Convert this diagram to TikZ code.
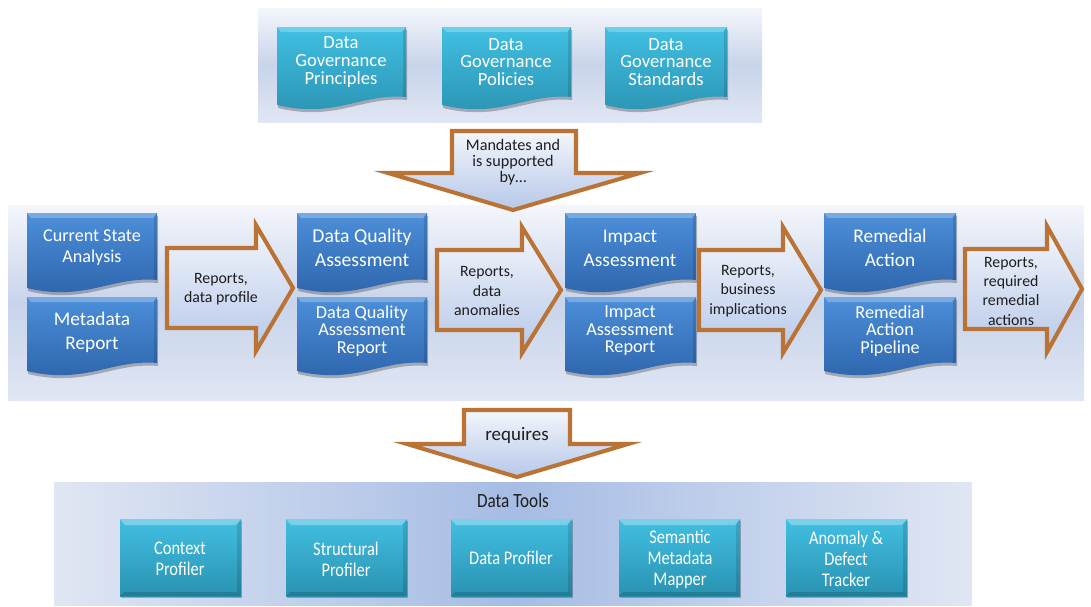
\documentclass[tikz,border=0pt]{standalone}
\usepackage{fontspec}
\setmainfont{Carlito}
\newfontfamily\narrowfont[FakeStretch=0.85]{Carlito}

\definecolor{edgebrown}{HTML}{BA7235}
\definecolor{arrowA}{HTML}{F3F6FC}
\definecolor{arrowB}{HTML}{B6C8E9}
\definecolor{docblueA}{HTML}{4C8FD9}
\definecolor{docblueB}{HTML}{2B62A9}
\definecolor{tealA}{HTML}{41BFE2}
\definecolor{tealB}{HTML}{2A92B1}
\definecolor{bandA}{HTML}{F4F6FB}
\definecolor{bandB}{HTML}{C8D4EB}
\definecolor{bandC}{HTML}{E0E6F3}
\definecolor{toolband}{HTML}{A6BCE4}
\definecolor{textgray}{HTML}{1E1E1E}

\tikzset{
  bluedoc/.style={top color=docblueA, bottom color=docblueB},
  tealdoc/.style={top color=tealA, bottom color=tealB},
  blockarrow/.style={draw=edgebrown, line width=2.3pt, top color=arrowA, bottom color=arrowB},
  doctext/.style={text=white, align=center, font=\fontsize{11}{13.6}\selectfont},
  smalldoc/.style={text=white, align=center, font=\fontsize{10.4}{10}\selectfont},
  arrowtext/.style={text=textgray, align=center, font=\fontsize{9}{11}\selectfont},
  tooltext/.style={text=white, align=center, font=\narrowfont\fontsize{11}{12}\selectfont},
}

% document with a wavy lower edge: style, x1, y1, x2, y2
\newcommand{\wavydoc}[5]{%
  \fill[black, opacity=0.25] ({#2+1},{#3+3}) -- ({#4+1},{#3+3}) -- ({#4+1},{#5+3}) .. controls ({#4+1-0.35*(#4-#2)},{#5-1}) and ({#2+1+0.45*(#4-#2)},{#5+25}) .. ({#2+1},{#5+11}) -- cycle;
  \path[#1] (#2,#3) -- (#4,#3) -- (#4,#5) .. controls ({#4-0.35*(#4-#2)},{#5-4}) and ({#2+0.45*(#4-#2)},{#5+22}) .. (#2,{#5+8}) -- cycle;
  \fill[white, opacity=0.25] (#2,#3) -- (#4,#3) -- ({#4-4},{#3+5}) -- ({#2+4},{#3+5}) -- cycle;
  \fill[black, opacity=0.12] (#4,#3) -- (#4,#5) -- ({#4-3},{#5-1}) -- ({#4-3},{#3+5}) -- cycle;
}
% bevelled tool box: x1, y1, x2, y2
\newcommand{\toolbox}[4]{%
  \fill[black, opacity=0.25] ({#1+1},{#2+2}) rectangle ({#3+1},{#4+2});
  \path[tealdoc] (#1,#2) rectangle (#3,#4);
  \fill[white, opacity=0.3] (#1,#2) -- (#3,#2) -- ({#3-5},{#2+6}) -- ({#1+5},{#2+6}) -- cycle;
  \fill[black, opacity=0.12] (#3,#2) -- (#3,#4) -- ({#3-4},{#4-4}) -- ({#3-4},{#2+6}) -- cycle;
  \fill[black, opacity=0.15] (#1,#4) -- (#3,#4) -- ({#3-4},{#4-4}) -- ({#1+4},{#4-4}) -- cycle;
}
% block arrow to the right: x1, x2, tip, y
\newcommand{\rightblock}[4]{%
  \draw[blockarrow] (#1,{#4-40}) -- (#2,{#4-40}) -- (#2,{#4-63}) -- (#3,#4) -- (#2,{#4+63}) -- (#2,{#4+40}) -- (#1,{#4+40}) -- cycle;
}

\begin{document}
\begin{tikzpicture}[x=0.02cm, y=-0.02cm]
\useasboundingbox (0,0) rectangle (1091,606);

% bands
\path[top color=bandA, bottom color=bandC, middle color=bandB] (258,8) rectangle (762,122);
\path[top color=bandA, bottom color=bandC, middle color=bandB] (8,205) rectangle (1084,400);
\path[left color=bandC, right color=bandC, middle color=toolband] (54,482) rectangle (972,605);

% governance
\wavydoc{tealdoc}{277}{27}{406}{97}
\wavydoc{tealdoc}{442}{27}{571}{97}
\wavydoc{tealdoc}{605}{27}{727}{97}
\node[smalldoc, font=\fontsize{10.6}{10}\selectfont] (princ) at (341,62) {Data\\Governance\\Principles};
\node[smalldoc, font=\fontsize{10.6}{10}\selectfont] (pol) at (506,62) {Data\\Governance\\Policies};
\node[smalldoc, font=\fontsize{10.6}{10}\selectfont] (std) at (666,62) {Data\\Governance\\Standards};

\draw[blockarrow] (452,131) -- (576,131) -- (576,173) -- (640,173) -- (513,210) -- (388,173) -- (452,173) -- cycle;
\node[arrowtext, font=\fontsize{9.2}{9.1}\selectfont] (mand) at (513,162) {Mandates and\\is supported\\by\dots};

% process
\wavydoc{bluedoc}{27}{213}{157}{280}
\wavydoc{bluedoc}{27}{297}{157}{363}
\wavydoc{bluedoc}{297}{213}{427}{280}
\wavydoc{bluedoc}{297}{297}{427}{363}
\wavydoc{bluedoc}{565}{213}{696}{280}
\wavydoc{bluedoc}{565}{297}{696}{363}
\wavydoc{bluedoc}{824}{213}{956}{280}
\wavydoc{bluedoc}{824}{297}{956}{363}

\node[doctext, font=\fontsize{10.3}{11.9}\selectfont] (cur) at (92,248) {Current State\\Analysis};
\node[doctext] (meta) at (92,332) {Metadata\\Report};
\node[doctext, font=\fontsize{11.2}{13.6}\selectfont] (dqa) at (362,248) {Data Quality\\Assessment};
\node[smalldoc] (dqarep) at (362,331) {Data Quality\\Assessment\\Report};
\node[doctext] (imp) at (630,248) {Impact\\Assessment};
\node[smalldoc] (imprep) at (630,331) {Impact\\Assessment\\Report};
\node[doctext] (rem) at (890,248) {Remedial\\Action};
\node[smalldoc] (rempipe) at (890,331) {Remedial\\Action\\Pipeline};

\rightblock{167}{256}{293}{288}
\rightblock{437}{522}{561}{290}
\rightblock{699}{783}{821}{290}
\rightblock{965}{1047}{1082}{289}
\node[arrowtext] (prof1) at (221,289) {Reports,\\data profile};
\node[arrowtext] (anom1) at (487,291) {Reports,\\data\\anomalies};
\node[arrowtext] (impl1) at (748,291) {Reports,\\business\\implications};
\node[arrowtext] (act1) at (1011,291) {Reports,\\required\\remedial\\actions};

\draw[blockarrow] (464,410) -- (570,410) -- (570,444) -- (628,444) -- (517,477) -- (407,444) -- (464,444) -- cycle;
\node[arrowtext, font=\fontsize{10.8}{12}\selectfont] (req) at (517,435) {requires};

% tools
\node[text=textgray, font=\narrowfont\fontsize{11.5}{12}\selectfont] (tools) at (513,501) {Data Tools};
\toolbox{120}{519}{241}{596}
\toolbox{286}{519}{407}{596}
\toolbox{451}{519}{572}{596}
\toolbox{619}{519}{740}{596}
\toolbox{786}{519}{907}{596}
\node[tooltext] (ctx) at (180,559) {Context\\Profiler};
\node[tooltext] (struct) at (346,559) {Structural\\Profiler};
\node[tooltext] (dprof) at (511,558) {Data Profiler};
\node[tooltext] (sem) at (680,559) {Semantic\\Metadata\\Mapper};
\node[tooltext] (anom) at (846,559) {Anomaly \&\\Defect\\Tracker};
\end{tikzpicture}
\end{document}
